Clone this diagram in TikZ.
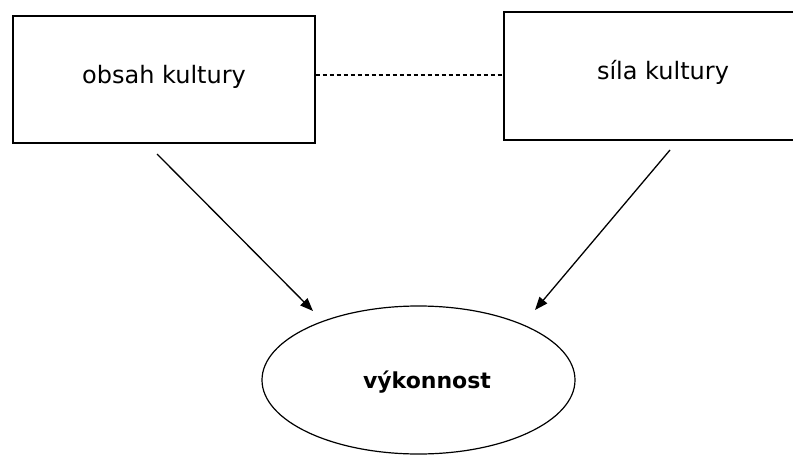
\documentclass[tikz,border=0pt]{standalone}
\usepackage{fontspec}
\setmainfont{DejaVu Sans}
\usetikzlibrary{arrows.meta,shapes.geometric}
\begin{document}
\begin{tikzpicture}[x=1pt,y=-1pt,
  box/.style={draw, line width=1.3pt, rectangle, inner sep=0pt, font=\fontsize{24}{28}\selectfont},
  oval/.style={draw, line width=1.2pt, ellipse, inner sep=0pt},
  caption/.style={inner sep=0pt, font=\bfseries\fontsize{22}{26}\selectfont},
  link/.style={line width=1.3pt, -{Triangle[length=13pt,width=10pt]}},
  tie/.style={line width=1.2pt, dash pattern=on 4pt off 3pt}]
\useasboundingbox (0,0) rectangle (793,455);
\clip (0,0) rectangle (793,455);
\fill[white] (0,0) rectangle (793,455);
% the two aspects of culture
\node[box, minimum width=302pt, minimum height=127pt, text depth=10pt] (obsah) at (164,79.5) {obsah kultury};
\node[box, minimum width=318pt, minimum height=128pt, text depth=12pt] (sila) at (663,76) {síla kultury};
% performance
\node[oval, minimum width=313pt, minimum height=148pt] (vykon) at (418.5,380) {};
\node[caption] (vykontext) at (427,382) {výkonnost};
% relation between content and strength
\draw[tie] (obsah.east |- 0,75) -- (sila.west |- 0,75);
% influences on performance
\coordinate (a1) at (157,154);
\coordinate (a2) at (670,150);
\coordinate (t1) at (313,311);
\coordinate (t2) at (535,310);
\draw[link] (a1) -- (t1);
\draw[link] (a2) -- (t2);
\end{tikzpicture}
\end{document}
